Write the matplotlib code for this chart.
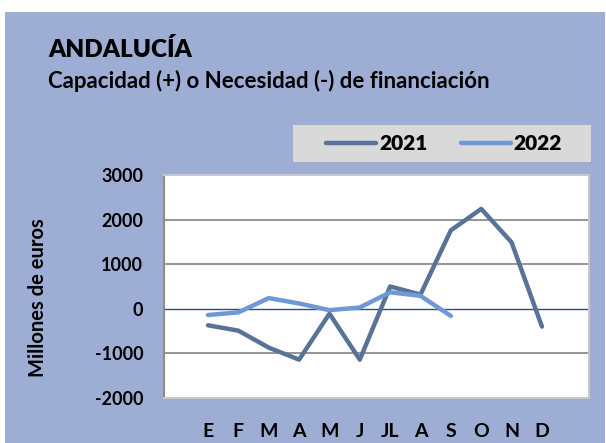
import matplotlib.pyplot as plt
from matplotlib.patches import Rectangle

# Datos (millones de euros)
meses = ['E', 'F', 'M', 'A', 'M', 'J', 'JL', 'A', 'S', 'O', 'N', 'D']
valores_2021 = [-370, -490, -870, -1140, -110, -1140, 500, 320, 1760, 2240, 1490, -400]
valores_2022 = [-140, -80, 240, 120, -30, 30, 370, 290, -160]

plt.rcParams['font.family'] = ['Lato', 'DejaVu Sans']
plt.rcParams['font.weight'] = 'bold'
plt.rcParams['axes.unicode_minus'] = False

fondo = '#9eadd3'
oscuro = '#587397'
claro = '#6f98d6'

fig = plt.figure(figsize=(6.06, 4.43), dpi=100)
fig.patch.set_facecolor('white')
W, H = 606, 443

# fondo azul del gráfico
fig.patches.append(Rectangle((5 / W, 0), 600 / W, 1 - 12 / H, transform=fig.transFigure,
                             facecolor=fondo, edgecolor='none', zorder=-2))
# caja de la leyenda
fig.patches.append(Rectangle((293 / W, 1 - 162 / H), 298 / W, 37 / H, transform=fig.transFigure,
                             facecolor='#d9d9d9', edgecolor='none', zorder=-1))

ax = fig.add_axes([164 / W, 45 / H, 425 / W, 223 / H])
ax.set_facecolor('white')

x = list(range(len(meses)))
ax.plot(x, valores_2021, color=oscuro, lw=3.2, solid_capstyle='round', label='2021', zorder=3)
ax.plot(x[:len(valores_2022)], valores_2022, color=claro, lw=3.2, solid_capstyle='round',
        label='2022', zorder=4)

ax.set_ylim(-2000, 3000)
ax.set_yticks(range(-2000, 3001, 1000))
ax.set_xlim(-1.45, 12.55)
ax.set_xticks(x)
ax.set_xticklabels(meses)

for v in range(-1000, 3000, 1000):
    if v == 0:
        ax.axhline(v, color='#2e4a8a', lw=1.0, zorder=2)
    else:
        ax.axhline(v, color='#8c8c8c', lw=1.3, zorder=2)

for s in ['top', 'right', 'bottom']:
    ax.spines[s].set_color('#c8c8c8')
    ax.spines[s].set_linewidth(1.5)
ax.spines['left'].set_color('#8c8c8c')
ax.spines['left'].set_linewidth(1.5)

ax.tick_params(axis='both', length=0)
ax.tick_params(axis='y', pad=15, labelsize=13)
ax.tick_params(axis='x', pad=18, labelsize=14)
for lab in ax.get_xticklabels() + ax.get_yticklabels():
    lab.set_fontweight('bold')

ax.set_ylabel('Millones de euros', fontsize=14.5, fontweight='bold')
ax.yaxis.set_label_coords(-0.273, 0.45)

fig.text(48 / W, 1 - 57 / H, 'ANDALUCÍA', fontsize=17.5, fontweight='heavy', color='black')
fig.text(48 / W, 1 - 88 / H, 'Capacidad (+) o Necesidad (-) de financiación',
         fontsize=16, fontweight='bold', color='black')

leg = ax.legend(loc='center', bbox_to_anchor=(444 / W, 1 - 143.5 / H),
                bbox_transform=fig.transFigure, ncol=2, frameon=False,
                handlelength=2.4, columnspacing=1.6, handletextpad=0.15,
                prop={'weight': 'heavy', 'size': 15})

fig.savefig('out.png', dpi=100, facecolor=fig.get_facecolor())
